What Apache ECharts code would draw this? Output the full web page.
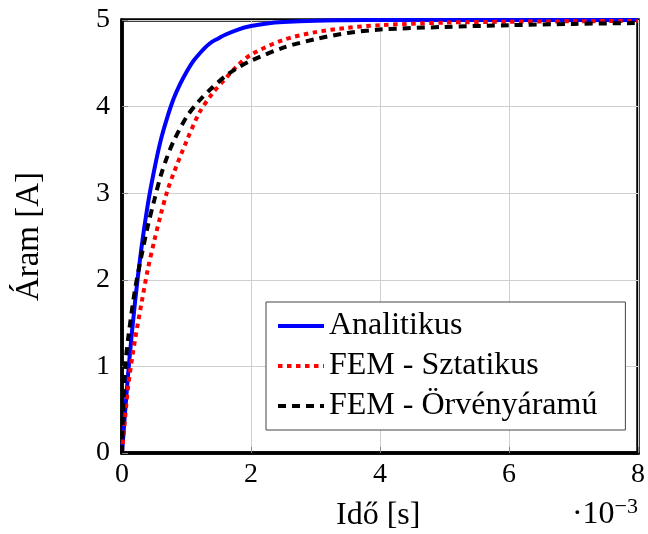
<!DOCTYPE html>
<html>
<head>
<meta charset="utf-8">
<script src="https://cdn.jsdelivr.net/npm/echarts@6/dist/echarts.min.js"></script>
<style>
html,body{margin:0;padding:0;background:#fff;}
#chart{width:648px;height:534px;}
</style>
</head>
<body>
<div id="chart"></div>
<script>
// time in units of 1e-3 s
var xTicks = [0, 2, 4, 6, 8];
var yTicks = [0, 1, 2, 3, 4, 5];
var seriesNames = ['Analitikus', 'FEM - Sztatikus', 'FEM - Örvényáramú'];

var analitikusT = [0, 0.1, 0.2, 0.3, 0.4, 0.5, 0.6, 0.7, 0.8, 0.9, 1.0, 1.1, 1.2, 1.3, 1.4, 1.5, 1.6, 1.8, 2.0, 2.25, 2.5, 3.0, 3.5, 4, 5, 6, 7, 8];
var analitikusI = [0, 0.96, 1.73, 2.36, 2.87, 3.27, 3.61, 3.87, 4.09, 4.26, 4.40, 4.52, 4.61, 4.69, 4.75, 4.79, 4.83, 4.89, 4.93, 4.96, 4.976, 4.992, 4.997, 5.0, 5.0, 5.0, 5.0, 5.0];

var sztatikusT = [0, 0.05, 0.1, 0.2, 0.3, 0.4, 0.5, 0.6, 0.7, 0.8, 1.0, 1.2, 1.4, 1.6, 1.8, 2.0, 2.5, 3.0, 3.5, 4, 5, 6, 7, 8];
var sztatikusI = [0, 0.42, 0.8, 1.3, 1.72, 2.12, 2.45, 2.75, 3.02, 3.23, 3.6, 3.93, 4.15, 4.32, 4.48, 4.6, 4.77, 4.86, 4.91, 4.94, 4.97, 4.98, 4.985, 4.99];

var orvenyT = [0, 0.02, 0.05, 0.1, 0.2, 0.3, 0.4, 0.5, 0.6, 0.7, 0.8, 1.0, 1.2, 1.4, 1.6, 1.8, 2.0, 2.5, 3.0, 3.5, 4, 5, 6, 7, 8];
var orvenyI = [0, 0.55, 1.0, 1.35, 1.88, 2.27, 2.62, 2.92, 3.2, 3.42, 3.6, 3.88, 4.07, 4.22, 4.35, 4.45, 4.53, 4.68, 4.78, 4.85, 4.89, 4.92, 4.94, 4.955, 4.965];

function pairs(t, v) { return t.map(function (x, i) { return [x, v[i]]; }); }

var FONT = 'Liberation Serif';
var chart = echarts.init(document.getElementById('chart'), null, {renderer: 'canvas'});
chart.setOption({
  animation: false,
  backgroundColor: '#fff',
  grid: {left: 122, right: 8, top: 20, bottom: 81, show: true, borderColor: '#000', borderWidth: 3.5, backgroundColor: 'transparent'},
  xAxis: {
    type: 'value', min: xTicks[0], max: xTicks[xTicks.length - 1], interval: 2,
    axisLine: {show: true, lineStyle: {color: '#000', width: 3.5}},
    axisTick: {show: true, inside: true, length: 6, lineStyle: {color: '#888', width: 1}},
    axisLabel: {fontFamily: FONT, fontSize: 28, color: '#000', margin: 8},
    splitLine: {show: true, lineStyle: {color: '#cfcfcf', width: 1}}
  },
  yAxis: {
    type: 'value', min: yTicks[0], max: yTicks[yTicks.length - 1], interval: 1,
    axisLine: {show: true, lineStyle: {color: '#000', width: 3.5}},
    axisTick: {show: true, inside: true, length: 6, lineStyle: {color: '#888', width: 1}},
    axisLabel: {fontFamily: FONT, fontSize: 28, color: '#000', margin: 12},
    splitLine: {show: true, lineStyle: {color: '#cfcfcf', width: 1}},
    name: 'Áram [A]', nameLocation: 'middle', nameGap: 76, nameRotate: 90,
    nameTextStyle: {fontFamily: FONT, fontSize: 33, color: '#000'}
  },
  legend: {
    show: true, orient: 'vertical', left: 266, top: 302,
    backgroundColor: '#fff', borderColor: '#444', borderWidth: 1,
    padding: [7, 28, 7, 10], itemGap: 6, itemWidth: 46, itemHeight: 12,
    itemStyle: {opacity: 0},
    lineStyle: {width: 4, opacity: 1},
    textStyle: {fontFamily: FONT, fontSize: 32, color: '#000', lineHeight: 34},
    data: seriesNames
  },
  series: [
    {name: seriesNames[0], type: 'line', data: pairs(analitikusT, analitikusI), smooth: 0.3, showSymbol: false, symbol: 'none',
     lineStyle: {color: '#0000ff', width: 4}, itemStyle: {color: '#0000ff'}, z: 3},
    {name: seriesNames[1], type: 'line', data: pairs(sztatikusT, sztatikusI), smooth: 0.3, showSymbol: false, symbol: 'none',
     lineStyle: {color: '#ff0000', width: 4, type: [4.5, 4.5]}, itemStyle: {color: '#ff0000'}, z: 4},
    {name: seriesNames[2], type: 'line', data: pairs(orvenyT, orvenyI), smooth: 0.3, showSymbol: false, symbol: 'none',
     lineStyle: {color: '#000', width: 4, type: [8, 6]}, itemStyle: {color: '#000'}, z: 5}
  ],
  graphic: [
    {type: 'text', left: 336, top: 500, style: {text: 'Idő [s]', font: '32px "Liberation Serif"', fill: '#000'}},
    {type: 'text', right: 10, top: 496, style: {
      text: '·10{sup|−3}', font: '32px "Liberation Serif"', fill: '#000',
      rich: {sup: {fontFamily: FONT, fontSize: 22, verticalAlign: 'top', padding: [0, 0, 16, 0]}}
    }}
  ]
});
</script>
</body>
</html>
